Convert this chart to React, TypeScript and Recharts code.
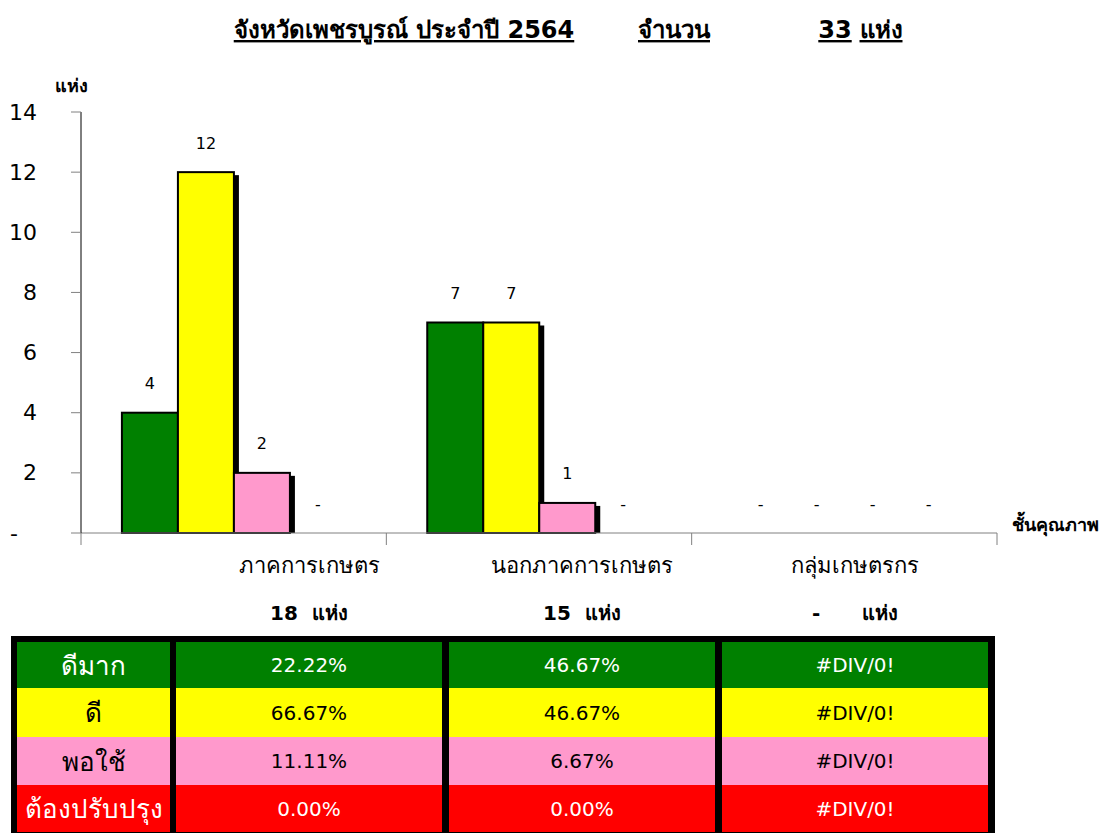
import React from 'react';
import { BarChart, Bar, XAxis, YAxis, LabelList } from 'recharts';

// categories and bar values (number of places)
const categories = ['ภาคการเกษตร', 'นอกภาคการเกษตร', 'กลุ่มเกษตรกร'];
const veryGood = [4, 7, 0];
const good = [12, 7, 0];
const fair = [2, 1, 0];
const needsWork = [0, 0, 0];
const totals = ['18', '15', '-'];
const yTicks = [0, 2, 4, 6, 8, 10, 12, 14];

// percentage table
const gradeNames = ['ดีมาก', 'ดี', 'พอใช้', 'ต้องปรับปรุง'];
const pctVeryGood = ['22.22%', '46.67%', '#DIV/0!'];
const pctGood = ['66.67%', '46.67%', '#DIV/0!'];
const pctFair = ['11.11%', '6.67%', '#DIV/0!'];
const pctNeedsWork = ['0.00%', '0.00%', '#DIV/0!'];

const FONT = "Tahoma, 'DejaVu Sans', 'Noto Sans', sans-serif";

const series = [
  { key: 'veryGood', name: 'ดีมาก', fill: '#008000', text: '#ffffff' },
  { key: 'good', name: 'ดี', fill: '#ffff00', text: '#000000' },
  { key: 'fair', name: 'พอใช้', fill: '#ff99cc', text: '#000000' },
  { key: 'needsWork', name: 'ต้องปรับปรุง', fill: '#ff0000', text: '#ffffff' },
];

const chartData = categories.map((name, i) => ({
  name,
  veryGood: veryGood[i],
  good: good[i],
  fair: fair[i],
  needsWork: needsWork[i],
}));

const tableRows = [pctVeryGood, pctGood, pctFair, pctNeedsWork];

const CHART_W = 1109;
const CHART_H = 560;
const MARGIN = { top: 112, right: 112, left: 11, bottom: 15 };
const Y_AXIS_W = 70;
const PLOT_W = CHART_W - MARGIN.right - MARGIN.left - Y_AXIS_W;
const BAND = PLOT_W / categories.length;

const ShadowBar = (props: any) => {
  const { x, y, width, height, fill } = props;
  if (!height || height <= 0) return null;
  return (
    <g>
      <rect x={x + width} y={y + 3} width={5} height={height - 3} fill="#000" />
      <rect x={x} y={y} width={width} height={height} fill={fill} stroke="#000" strokeWidth={2} />
    </g>
  );
};

const BarValue = (props: any) => {
  const { x, y, width, value } = props;
  return (
    <text
      x={x + width / 2}
      y={y - 29}
      textAnchor="middle"
      dominantBaseline="central"
      fontSize={16}
      fontFamily={FONT}
      fill="#000"
    >
      {value === 0 ? '-' : value}
    </text>
  );
};

const YTick = (props: any) => {
  const { x, y, payload } = props;
  if (payload.value === 0) {
    return (
      <text x={x - 59} y={y} dominantBaseline="central" fontSize={22} fontFamily={FONT} fill="#000">
        -
      </text>
    );
  }
  return (
    <text x={x - 32} y={y} textAnchor="end" dominantBaseline="central" fontSize={22} fontFamily={FONT} fill="#000">
      {payload.value}
    </text>
  );
};

const XBoundaryTick = (props: any) => {
  const { x, y, index } = props;
  const left = x - BAND / 2;
  return (
    <g>
      <line x1={left} y1={y} x2={left} y2={y + 12} stroke="#808080" />
      {index === categories.length - 1 && (
        <line x1={x + BAND / 2} y1={y} x2={x + BAND / 2} y2={y + 12} stroke="#808080" />
      )}
    </g>
  );
};

const colLeft = [17, 176, 449, 722];
const colWidth = [153, 266, 266, 266];
const rowTop = [642, 688, 737, 785];
const rowHeight = [46, 49, 48, 47];

const titleParts = [
  { text: 'จังหวัดเพชรบูรณ์ ประจำปี 2564', cx: 404 },
  { text: 'จำนวน', cx: 674 },
  { text: '33', cx: 835 },
  { text: 'แห่ง', cx: 881 },
];

export default function App() {
  const centers = [1, 2, 3].map(c => colLeft[c] + colWidth[c] / 2);
  return (
    <div style={{ position: 'absolute', left: 0, top: 0, width: 1109, height: 833, background: '#fff', fontFamily: FONT, overflow: 'hidden' }}>
      {/* title and axis unit */}
      <svg width={1109} height={110} style={{ position: 'absolute', left: 0, top: 0 }}>
        {titleParts.map(p => (
          <text
            key={p.text}
            x={p.cx}
            y={38}
            textAnchor="middle"
            fontSize={24}
            fontWeight="bold"
            fontFamily={FONT}
            fill="#000"
            style={{ textDecoration: 'underline' }}
          >
            {p.text}
          </text>
        ))}
        <text x={71} y={92} textAnchor="middle" fontSize={18} fontWeight="bold" fontFamily={FONT} fill="#000">
          แห่ง
        </text>
      </svg>
      <div style={{ position: 'absolute', top: 510, left: 1012, fontWeight: 'bold', fontSize: 18, whiteSpace: 'nowrap' }}>ชั้นคุณภาพ</div>

      <div style={{ position: 'absolute', left: 0, top: 0 }}>
        <BarChart
          width={CHART_W}
          height={CHART_H}
          data={chartData}
          margin={MARGIN}
          barCategoryGap="13.4%"
          barGap={0}
        >
          <XAxis
            dataKey="name"
            height={12}
            axisLine={{ stroke: '#808080' }}
            tickLine={false}
            tickSize={0}
            tickMargin={0}
            tick={<XBoundaryTick />}
            interval={0}
          />
          <YAxis
            width={Y_AXIS_W}
            domain={[0, 14]}
            ticks={yTicks}
            interval={0}
            tickSize={10}
            tickMargin={2}
            axisLine={{ stroke: '#000' }}
            tickLine={{ stroke: '#808080' }}
            tick={<YTick />}
          />
          {series.map(s => (
            <Bar key={s.key} dataKey={s.key} name={s.name} fill={s.fill} shape={<ShadowBar />} isAnimationActive={false}>
              <LabelList dataKey={s.key} content={<BarValue />} />
            </Bar>
          ))}
        </BarChart>
      </div>

      {/* category labels under the axis */}
      {categories.map((c, i) => (
        <div key={c} style={{ position: 'absolute', top: 548, left: centers[i], transform: 'translateX(-50%)', fontSize: 22, whiteSpace: 'nowrap' }}>
          {c}
        </div>
      ))}
      {totals.map((t, i) => (
        <div key={i} style={{ position: 'absolute', top: 597, left: centers[i], transform: 'translateX(-50%)', fontSize: 20, fontWeight: 'bold', whiteSpace: 'pre' }}>
          {t === '-' ? `${t}      แห่ง` : `${t}  แห่ง`}
        </div>
      ))}

      {/* percentage table */}
      <div style={{ position: 'absolute', left: 11, top: 636, width: 984, height: 200, background: '#000' }} />
      {series.map((s, r) => (
        <React.Fragment key={s.key}>
          {[gradeNames[r], ...tableRows[r]].map((txt, c) => (
            <div
              key={c}
              style={{
                position: 'absolute',
                left: colLeft[c],
                top: rowTop[r],
                width: colWidth[c],
                height: rowHeight[r],
                background: s.fill,
                color: s.text,
                fontSize: c === 0 ? 26 : 20,
                display: 'flex',
                alignItems: 'center',
                justifyContent: 'center',
                whiteSpace: 'nowrap',
                overflow: 'hidden',
              }}
            >
              {txt}
            </div>
          ))}
        </React.Fragment>
      ))}
    </div>
  );
}
